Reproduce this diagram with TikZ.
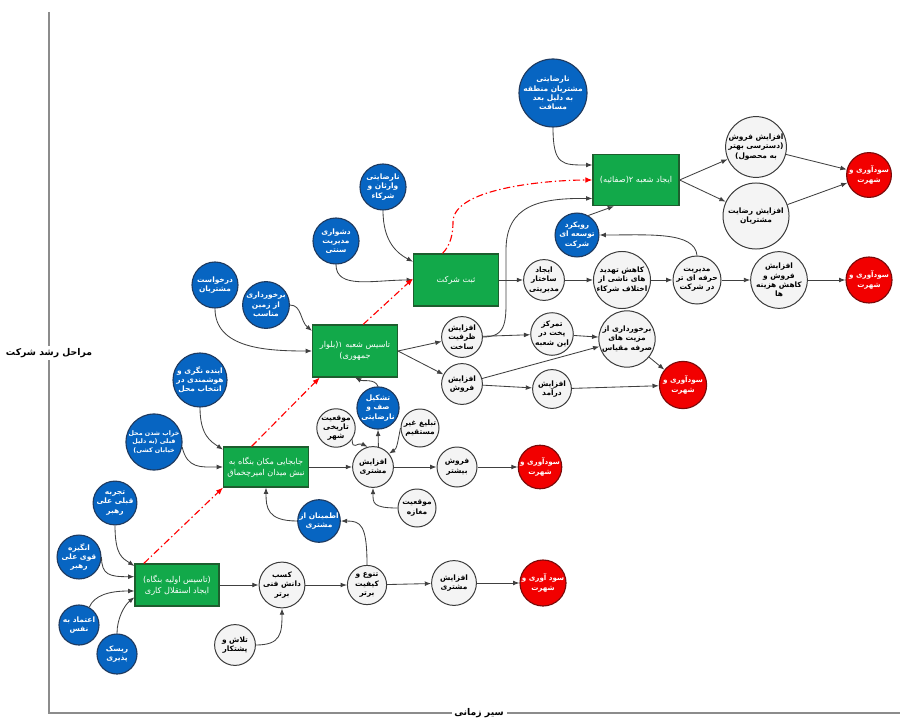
\documentclass[tikz,border=0pt]{standalone}
\usepackage{fontspec}
\newfontfamily\fafont[Script=Arabic]{DejaVu Sans}
\TeXXeTstate=1
\usetikzlibrary{arrows.meta}
\newcommand\rl[1]{\beginR#1\endR}

\definecolor{bluefill}{HTML}{0765C2}
\definecolor{blueline}{HTML}{1F3A5F}
\definecolor{greenfill}{HTML}{12A94A}
\definecolor{greenline}{HTML}{1D5E2E}
\definecolor{redfill}{HTML}{F20000}
\definecolor{redline}{HTML}{7A0A0A}
\definecolor{whitefill}{HTML}{F4F4F4}
\definecolor{greyline}{HTML}{3A3A3A}
\definecolor{arrowc}{HTML}{404040}
\definecolor{axisc}{HTML}{8C8C8C}

\begin{document}
\begin{tikzpicture}[x=0.025cm,y=-0.025cm,
  every node/.style={align=center, inner sep=0pt},
  bnode/.style={circle, draw=blueline, fill=bluefill, text=white, line width=0.8pt,
    font=\fafont\bfseries\fontsize{5.3}{6.6}\selectfont},
  wnode/.style={circle, draw=greyline, fill=whitefill, text=black, line width=0.7pt,
    font=\fafont\bfseries\fontsize{5.3}{6.6}\selectfont},
  rnode/.style={circle, draw=redline, fill=redfill, text=white, line width=0.8pt,
    font=\fafont\bfseries\fontsize{5.1}{6.6}\selectfont},
  gbox/.style={rectangle, draw=greenline, fill=greenfill, text=white, line width=0.8pt,
    minimum width=2.12cm, minimum height=1.3cm,
    font=\fafont\fontsize{5.8}{7.8}\selectfont},
  ar/.style={draw=arrowc, line width=0.6pt, -{Latex[length=4.5pt,width=3.4pt]}},
  rd/.style={draw=red, line width=0.8pt, dash pattern=on 5pt off 2pt on 1pt off 2pt,
    -{Latex[length=5pt,width=4pt]}},
  axlabel/.style={fill=white, inner sep=2pt, font=\fafont\bfseries\fontsize{6.6}{8}\selectfont}
]
\useasboundingbox (0,0) rectangle (905,721);

% axes
\coordinate (ytop) at (49,12);
\coordinate (origin) at (49,713);
\coordinate (xend) at (900,713);
\draw[axisc, line width=0.8pt] (ytop) -- (origin) -- (xend);
\node[axlabel] (ylab) at (49,353) {\rl{مراحل رشد شرکت}};
\node[axlabel] (xlab) at (479,713) {\rl{سیر زمانی}};

% stage 1: founding
\node[gbox, minimum width=2.1cm, minimum height=1.05cm] (G1) at (177,585)
  {\rl{(تاسیس اولیه بنگاه)}\\\rl{ایجاد استقلال کاری}};
\node[bnode, minimum size=1cm] (B1) at (115,503) {\rl{تجربه}\\\rl{قبلی علی}\\\rl{رهبر}};
\node[bnode, minimum size=1.02cm] (B2) at (79,557) {\rl{انگیزه}\\\rl{قوی علی}\\\rl{رهبر}};
\node[bnode, minimum size=1cm] (B3) at (79,625) {\rl{اعتماد به}\\\rl{نفس}};
\node[bnode, minimum size=1cm] (B4) at (117,654) {\rl{ریسک}\\\rl{پذیری}};
\node[wnode, minimum size=0.95cm] (kasb) at (282,585) {\rl{کسب}\\\rl{دانش فنی}\\\rl{برتر}};
\node[wnode, minimum size=1.02cm] (tolash) at (235,645) {\rl{تلاش و}\\\rl{پشتکار}};
\node[wnode, minimum size=0.98cm] (tanavo) at (367,585) {\rl{تنوع و}\\\rl{کیفیت}\\\rl{برتر}};
\node[wnode, minimum size=1.12cm] (afz1) at (454,583) {\rl{افزایش}\\\rl{مشتری}};
\node[rnode, minimum size=1.15cm] (red1) at (543,583) {\rl{سود آوری و}\\\rl{شهرت}};
\node[bnode, minimum size=0.98cm] (etminan) at (319,521) {\rl{اطمینان از}\\\rl{مشتری}};

% stage 2: relocation
\node[gbox, minimum width=2.12cm, minimum height=1.0cm] (G2) at (266,467)
  {\rl{جابجایی مکان بنگاه به}\\\rl{نبش میدان امیرچخماق}};
\node[bnode, minimum size=1.4cm, font=\fafont\bfseries\fontsize{4.5}{5.9}\selectfont] (khrab) at (154,442)
  {\rl{خراب شدن محل}\\\rl{قبلی (به دلیل}\\\rl{خیابان کشی)}};
\node[bnode, minimum size=1.3cm] (ayande) at (200,380) {\rl{اینده نگری و}\\\rl{هوشمندی در}\\\rl{انتخاب محل}};
\node[wnode, minimum size=0.95cm] (maqaze) at (417,508) {\rl{موقعیت}\\\rl{مغازه}};
\node[wnode, minimum size=1.02cm] (afz2) at (373,467) {\rl{افزایش}\\\rl{مشتری}};
\node[wnode, minimum size=1cm] (bishtar) at (457,467) {\rl{فروش}\\\rl{بیشتر}};
\node[rnode, minimum size=1.05cm] (red2) at (540,467) {\rl{سودآوری و}\\\rl{شهرت}};
\node[wnode, minimum size=0.95cm] (tarikhi) at (336,428) {\rl{موقعیت}\\\rl{تاریخی}\\\rl{شهر}};
\node[bnode, minimum size=0.96cm] (saf) at (378,408) {\rl{تشکیل}\\\rl{صف و}\\\rl{نارضایتی}};
\node[wnode, minimum size=0.95cm] (tablig) at (420,428) {\rl{تبلیغ غیر}\\\rl{مستقیم}};

% stage 3: first branch
\node[gbox] (G3) at (355,351) {\rl{تاسیس شعبه ۱(بلوار}\\\rl{جمهوری)}};
\node[bnode, minimum size=1.15cm] (darkhast) at (215,285) {\rl{درخواست}\\\rl{مشتریان}};
\node[bnode, minimum size=1.12cm] (zamin) at (266,305) {\rl{برخورداری}\\\rl{از زمین}\\\rl{مناسب}};
\node[wnode, minimum size=1.02cm] (zarfiat) at (462,337) {\rl{افزایش}\\\rl{ظرفیت}\\\rl{ساخت}};
\node[wnode, minimum size=1.02cm] (foroush) at (462,384) {\rl{افزایش}\\\rl{فروش}};
\node[wnode, minimum size=0.97cm] (tamarkoz) at (552,334) {\rl{تمرکز}\\\rl{پخت در}\\\rl{این شعبه}};
\node[wnode, minimum size=1.18cm] (mazyat) at (627,339) {\rl{برخورداری از}\\\rl{مزیت های}\\\rl{صرفه مقیاس}};
\node[wnode, minimum size=0.97cm] (daramad) at (552,389) {\rl{افزایش}\\\rl{درآمد}};
\node[rnode, minimum size=1.18cm] (red3) at (683,385) {\rl{سودآوری و}\\\rl{شهرت}};

% stage 4: company registration
\node[gbox] (G4) at (456,280) {\rl{ثبت شرکت}};
\node[bnode, minimum size=1.15cm] (doshvari) at (336,241) {\rl{دشواری}\\\rl{مدیریت}\\\rl{سنتی}};
\node[bnode, minimum size=1.15cm] (varasan) at (383,187) {\rl{نارضایتی}\\\rl{وارثان و}\\\rl{شرکاء}};
\node[wnode, minimum size=1.02cm] (ijad) at (544,280) {\rl{ایجاد}\\\rl{ساختار}\\\rl{مدیریتی}};
\node[wnode, minimum size=1.42cm] (kahesh) at (622,280) {\rl{کاهش تهدید}\\\rl{های ناشی از}\\\rl{اختلاف شرکاء}};
\node[wnode, minimum size=1.2cm] (modiriat) at (697,280) {\rl{مدیریت}\\\rl{حرفه ای تر}\\\rl{در شرکت}};
\node[wnode, minimum size=1.25cm] (afzk) at (779,280) {\rl{افزایش}\\\rl{فروش و}\\\rl{کاهش هزینه}\\\rl{ها}};
\node[rnode, minimum size=1.15cm] (red4) at (869,280) {\rl{سودآوری و}\\\rl{شهرت}};
\node[bnode, minimum size=1.02cm] (ravikard) at (577,235) {\rl{رویکرد}\\\rl{توسعه ای}\\\rl{شرکت}};

% stage 5: second branch
\node[gbox, minimum width=2.15cm, minimum height=1.28cm] (G5) at (636,180) {\rl{ایجاد شعبه ۲(صفائیه)}};
\node[bnode, minimum size=1.45cm] (masafat) at (553,93) {\rl{نارضایتی}\\\rl{مشتریان منطقه}\\\rl{به دلیل بعد}\\\rl{مسافت}};
\node[wnode, minimum size=1.45cm] (afzf) at (756,147) {\rl{افزایش فروش}\\\rl{(دسترسی بهتر}\\\rl{به محصول)}};
\node[wnode, minimum size=1.65cm] (rezayat) at (756,216) {\rl{افزایش رضایت}\\\rl{مشتریان}};
\node[rnode, minimum size=1.12cm] (red5) at (869,175) {\rl{سودآوری و}\\\rl{شهرت}};

% connectors, stage 1
\draw[ar] (B1.south) .. controls +(0,30) and +(-12,-8) .. (G1.156);
\draw[ar] (B2.east) .. controls +(0,18) and +(-25,0) .. (G1.169);
\draw[ar] (B3.60) .. controls +(5,-12) and +(-25,0) .. (G1.188);
\draw[ar] (B4.north) .. controls +(0,-15) and +(-10,8) .. (G1.196);
\draw[ar] (G1) -- (kasb);
\draw[ar] (tolash.east) .. controls +(25,0) and +(0,25) .. (kasb.south);
\draw[ar] (kasb) -- (tanavo);
\draw[ar] (tanavo) -- (afz1);
\draw[ar] (afz1) -- (red1);
\draw[ar] (tanavo.north) .. controls +(0,-40) and +(20,0) .. (etminan.east);
\draw[ar] (etminan.west) .. controls +(-30,0) and +(0,20) .. (G2.south);

% connectors, stage 2
\draw[ar] (khrab.-10) .. controls +(5,22) and +(-22,0) .. (G2.west);
\draw[ar] (ayande.south) .. controls +(0,28) and +(-12,-8) .. (G2.158);
\draw[ar] (G2) -- (afz2);
\draw[ar] (maqaze.west) .. controls +(-25,0) and +(0,15) .. (afz2.south);
\draw[ar] (tarikhi.-35) .. controls +(0,12) and +(-10,-5) .. (afz2.105);
\draw[ar] (afz2.75) -- (saf.south);
\draw[ar] (tablig.west) .. controls +(-3,15) and +(8,-5) .. (afz2.40);
\draw[ar] (saf.north) .. controls +(-3,-8) and +(8,4) .. (G3.south);
\draw[ar] (afz2) -- (bishtar);
\draw[ar] (bishtar) -- (red2);

% connectors, stage 3
\draw[ar] (darkhast.south) .. controls +(0,40) and +(-45,0) .. (G3.west);
\draw[ar] (zamin.east) .. controls +(12,0) and +(-12,-10) .. (G3.155);
\draw[ar] (G3.east) -- (zarfiat);
\draw[ar] (G3.east) -- (foroush);
\draw[ar] (zarfiat) -- (tamarkoz);
\draw[ar] (zarfiat.east) .. controls +(25,0) and (506,320) .. (506,290)
  -- (506,250) .. controls (506,205) and (540,198) .. (G5.203);
\draw[ar] (foroush) -- (mazyat);
\draw[ar] (foroush) -- (daramad);
\draw[ar] (tamarkoz) -- (mazyat);
\draw[ar] (mazyat) -- (red3);
\draw[ar] (daramad) -- (red3);

% connectors, stage 4
\draw[ar] (doshvari.south) .. controls +(0,25) and +(-40,0) .. (G4.west);
\draw[ar] (varasan.south) .. controls +(0,32) and +(-15,-8) .. (G4.157);
\draw[ar] (G4) -- (ijad);
\draw[ar] (ijad) -- (kahesh);
\draw[ar] (kahesh) -- (modiriat);
\draw[ar] (modiriat) -- (afzk);
\draw[ar] (afzk) -- (red4);
\draw[ar] (modiriat.north) .. controls +(-2,-24) and +(50,0) .. (ravikard.east);
\draw[ar] (ravikard.60) -- (G5.230);

% connectors, stage 5
\draw[ar] (masafat.south) .. controls +(0,38) and +(-30,0) .. (G5.161);
\draw[ar] (G5.east) -- (afzf);
\draw[ar] (G5.east) -- (rezayat);
\draw[ar] (afzf) -- (red5);
\draw[ar] (rezayat) -- (red5);

% growth path between stages
\draw[rd] (G1.147) -- (G2.south west);
\draw[rd] (G2.125) -- (G3.217);
\draw[rd] (G3.73) -- (G4.178);
\draw[rd] (G4.117) .. controls +(8,-8) and +(0,12) .. (453,222)
  .. controls +(0,-35) and +(-40,0) .. (G5.west);
\end{tikzpicture}
\end{document}
